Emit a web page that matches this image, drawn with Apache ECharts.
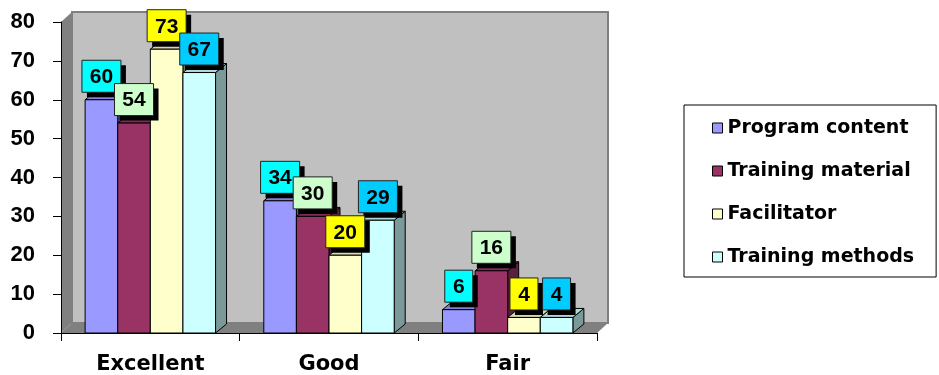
<!DOCTYPE html>
<html>
<head>
<meta charset="utf-8">
<script src="https://cdn.jsdelivr.net/npm/echarts@6/dist/echarts.min.js"></script>
<style>
  html, body { margin: 0; padding: 0; background: #fff; }
  #chart { width: 939px; height: 375px; }
</style>
</head>
<body>
<div id="chart"></div>
<script>
// Ratings per category for each aspect of the training
const categories = ['Excellent', 'Good', 'Fair'];
const seriesNames = ['Program content', 'Training material', 'Facilitator', 'Training methods'];
const programContent = [60, 34, 6];
const trainingMaterial = [54, 30, 16];
const facilitator = [73, 20, 4];
const trainingMethods = [67, 29, 4];
const yMin = 0, yMax = 80, yStep = 10;

const seriesValues = [programContent, trainingMaterial, facilitator, trainingMethods];
const barColors = ['#9999FF', '#993366', '#FFFFCC', '#CCFFFF'];
const labelColors = ['#00FFFF', '#CCFFCC', '#FFFF00', '#00CCFF'];

// 3D look: depth of the wall and of each bar
const WALL_DX = 11, WALL_DY = 10;
const BAR_DX = 11, BAR_DY = 9;
const GROUP_FRACTION = 0.73;

const LABEL_FONT = 'bold 21px "Liberation Sans", Arial, sans-serif';
const LABEL_PAD_X = 8, LABEL_H = 32, LABEL_GAP = 7.5, LABEL_SHADOW = 5;

const measureCtx = document.createElement('canvas').getContext('2d');
measureCtx.font = LABEL_FONT;

function shade(hex, f) {
  const n = parseInt(hex.slice(1), 16);
  const r = Math.round(((n >> 16) & 255) * f);
  const g = Math.round(((n >> 8) & 255) * f);
  const b = Math.round((n & 255) * f);
  return 'rgb(' + r + ',' + g + ',' + b + ')';
}

// Back wall, side wall and floor of the 3D plot area
function renderWall(params) {
  const cs = params.coordSys;
  const x = cs.x, y = cs.y, w = cs.width, h = cs.height;
  return {
    type: 'group',
    silent: true,
    children: [
      { type: 'rect', shape: { x: x + WALL_DX, y: y - WALL_DY, width: w, height: h },
        style: { fill: '#C0C0C0', stroke: '#808080', lineWidth: 2 } },
      { type: 'polygon', shape: { points: [[x, y], [x + WALL_DX, y - WALL_DY], [x + WALL_DX, y + h - WALL_DY], [x, y + h]] },
        style: { fill: '#808080' } },
      { type: 'polygon', shape: { points: [[x, y + h], [x + WALL_DX, y + h - WALL_DY], [x + w + WALL_DX, y + h - WALL_DY], [x + w, y + h]] },
        style: { fill: '#808080' } }
    ]
  };
}

function makeBarRenderer(k) {
  return function (params, api) {
    const cat = api.value(0);
    const v = api.value(1);
    const p0 = api.coord([cat, 0]);
    const p1 = api.coord([cat, v]);
    const band = api.size([1, 0])[0];
    const gw = band * GROUP_FRACTION;
    const w = gw / seriesNames.length;
    const x0 = p0[0] - gw / 2 + k * w;
    const x1 = x0 + w;
    const yb = p0[1], yt = p1[1];
    const c = barColors[k];
    const edge = { stroke: '#000', lineWidth: 1 };

    const text = String(v);
    const tw = measureCtx.measureText(text).width;
    const bw = Math.round(tw + LABEL_PAD_X * 2);
    const cx = (x0 + x1) / 2;
    const by = yt - LABEL_GAP - LABEL_H;
    const bx = cx - bw / 2;

    return {
      type: 'group',
      children: [
        { type: 'polygon', z2: 1,
          shape: { points: [[x1, yt], [x1 + BAR_DX, yt - BAR_DY], [x1 + BAR_DX, yb - BAR_DY], [x1, yb]] },
          style: Object.assign({ fill: shade(c, 0.6) }, edge) },
        { type: 'polygon', z2: 2,
          shape: { points: [[x0, yt], [x1, yt], [x1 + BAR_DX, yt - BAR_DY], [x0 + BAR_DX, yt - BAR_DY]] },
          style: Object.assign({ fill: shade(c, 0.85) }, edge) },
        { type: 'rect', z2: 3,
          shape: { x: x0, y: yt, width: w, height: yb - yt },
          style: Object.assign({ fill: c }, edge) },
        { type: 'rect', z2: 10,
          shape: { x: bx + LABEL_SHADOW, y: by + LABEL_SHADOW, width: bw, height: LABEL_H },
          style: { fill: '#000' } },
        { type: 'rect', z2: 11,
          shape: { x: bx, y: by, width: bw, height: LABEL_H },
          style: { fill: labelColors[k], stroke: '#222', lineWidth: 1 } },
        { type: 'text', z2: 12,
          style: { text: text, x: cx, y: by + LABEL_H / 2 + 1, align: 'center', verticalAlign: 'middle',
                   font: LABEL_FONT, fill: '#000' } }
      ]
    };
  };
}

const barSeries = seriesNames.map(function (name, k) {
  return {
    type: 'custom',
    name: name,
    z: 2,
    itemStyle: { color: barColors[k], borderColor: '#000', borderWidth: 1 },
    renderItem: makeBarRenderer(k),
    encode: { x: 0, y: 1 },
    data: seriesValues[k].map(function (val, i) { return [i, val]; })
  };
});

const chart = echarts.init(document.getElementById('chart'));
chart.setOption({
  animation: false,
  backgroundColor: '#fff',
  grid: { left: 61, right: 342, top: 22, bottom: 42, containLabel: false },
  xAxis: {
    type: 'category',
    data: categories,
    z: 10,
    axisLine: { show: true, lineStyle: { color: '#000', width: 1 } },
    axisTick: { show: true, length: 8, lineStyle: { color: '#000' } },
    axisLabel: { margin: 21, color: '#000', fontFamily: '"DejaVu Sans", sans-serif',
                 fontWeight: 'bold', fontSize: 21 },
    splitLine: { show: false }
  },
  yAxis: {
    type: 'value',
    min: yMin, max: yMax, interval: yStep,
    z: 10,
    axisLine: { show: true, lineStyle: { color: '#000', width: 1 } },
    axisTick: { show: true, length: 8, lineStyle: { color: '#000' } },
    axisLabel: { margin: 26, color: '#000', fontFamily: '"Liberation Sans", Arial, sans-serif',
                 fontWeight: 'bold', fontSize: 22, padding: [4, 0, 0, 0] },
    splitLine: { show: false }
  },
  legend: {
    orient: 'vertical',
    left: 684, top: 105,
    padding: [13, 22, 10, 28],
    itemGap: 23,
    itemWidth: 10, itemHeight: 10,
    icon: 'rect',
    selectedMode: false,
    backgroundColor: '#fff',
    borderColor: '#000', borderWidth: 1,
    textStyle: { color: '#000', fontFamily: '"DejaVu Sans", sans-serif', fontWeight: 'bold',
                 fontSize: 19, lineHeight: 20 },
    data: seriesNames.map(function (name, k) {
      return { name: name, itemStyle: { color: barColors[k], borderColor: '#000', borderWidth: 1 } };
    })
  },
  series: [{
    type: 'custom',
    name: 'wall',
    z: 1,
    silent: true,
    renderItem: renderWall,
    encode: { x: 0, y: 1 },
    data: [[0, 0]]
  }].concat(barSeries)
});
</script>
</body>
</html>
